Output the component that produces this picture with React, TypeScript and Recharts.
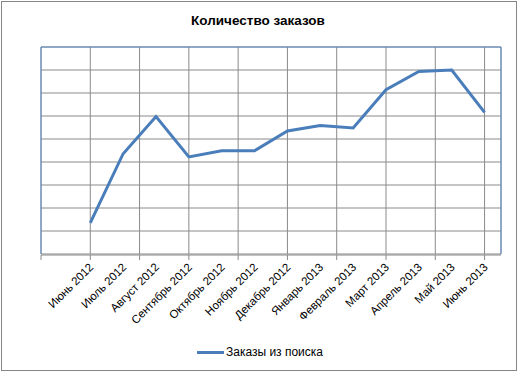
import React from 'react'
import { LineChart, Line, XAxis, YAxis, CartesianGrid } from 'recharts'

const MONTHS = [
  'Июнь 2012', 'Июль 2012', 'Август 2012', 'Сентябрь 2012', 'Октябрь 2012',
  'Ноябрь 2012', 'Декабрь 2012', 'Январь 2013', 'Февраль 2013', 'Март 2013',
  'Апрель 2013', 'Май 2013', 'Июнь 2013',
]
const ORDERS = [13.5, 43.6, 59.8, 42.2, 44.9, 44.9, 53.5, 55.9, 54.8, 71.4, 79.4, 80, 61.6]
const Y_TICKS = [0, 10, 20, 30, 40, 50, 60, 70, 80, 90]
const GRID_TICKS = [-1.5, 0, 1.5, 3, 4.5, 6, 7.5, 9, 10.5, 12]
const MONTH_TICKS = MONTHS.map((_, i) => i)
const X_DOMAIN = [-1.5, 12.5]
const TITLE = 'Количество заказов'
const SERIES_NAME = 'Заказы из поиска'

const FONT = '"Liberation Sans", Arial, sans-serif'
const LINE_COLOR = '#4a7ebb'
const BORDER_BLUE = '#5d8ac4'
const GRID_GRAY = '#8a8a8a'

const data = ORDERS.map((value, idx) => ({ idx, value }))

// rotated month label, its end sits just under the point
const MonthTick = ({ x, y, payload }: any) => (
  <g transform={`translate(${x + 1},${y + 11})`}>
    <text
      x={0}
      y={0}
      dy="0.35em"
      textAnchor="end"
      transform="rotate(-45)"
      fontSize={11.5}
      fontFamily={FONT}
      fill="#000"
    >
      {MONTHS[payload.value]}
    </text>
  </g>
)

const Blank = () => <g />

export default function App() {
  return (
    <div style={{ position: 'absolute', left: 0, top: 0, width: 518, height: 372, background: '#fff', fontFamily: FONT }}>
      <div style={{
        position: 'absolute', left: 1, top: 1, width: 516, height: 370,
        boxSizing: 'border-box', border: '1px solid #868686'
      }} />
      <div style={{
        position: 'absolute', left: -1, top: 13, width: 518, textAlign: 'center',
        fontSize: 13.5, fontWeight: 700, lineHeight: '16px', color: '#000'
      }}>
        {TITLE}
      </div>
      <div style={{ position: 'absolute', left: 0, top: 0 }}>
        <LineChart
          width={518}
          height={372}
          data={data}
          margin={{ top: 46, right: 16, left: 40, bottom: 116 }}
        >
          <CartesianGrid xAxisId="grid" yAxisId="left" stroke={GRID_GRAY} />
          <XAxis
            xAxisId="grid"
            dataKey="idx"
            type="number"
            domain={X_DOMAIN}
            ticks={GRID_TICKS}
            interval={0}
            height={1}
            tickSize={5}
            tick={<Blank />}
            axisLine={{ stroke: GRID_GRAY }}
            tickLine={{ stroke: GRID_GRAY }}
          />
          <XAxis
            xAxisId="cat"
            dataKey="idx"
            type="number"
            domain={X_DOMAIN}
            ticks={MONTH_TICKS}
            interval={0}
            height={1}
            tickSize={0}
            tickMargin={0}
            axisLine={false}
            tickLine={false}
            tick={<MonthTick />}
          />
          <XAxis
            xAxisId="top"
            orientation="top"
            dataKey="idx"
            type="number"
            domain={X_DOMAIN}
            ticks={GRID_TICKS}
            height={1}
            tick={<Blank />}
            tickLine={false}
            axisLine={{ stroke: BORDER_BLUE }}
          />
          <YAxis
            yAxisId="left"
            domain={[0, 90]}
            ticks={Y_TICKS}
            interval={0}
            width={1}
            tick={<Blank />}
            tickLine={false}
            axisLine={{ stroke: BORDER_BLUE }}
          />
          <YAxis
            yAxisId="right"
            orientation="right"
            domain={[0, 90]}
            ticks={Y_TICKS}
            width={1}
            tick={<Blank />}
            tickLine={false}
            axisLine={{ stroke: BORDER_BLUE }}
          />
          <Line
            xAxisId="cat"
            yAxisId="left"
            type="linear"
            dataKey="value"
            name={SERIES_NAME}
            stroke={LINE_COLOR}
            strokeWidth={3}
            dot={false}
            isAnimationActive={false}
          />
        </LineChart>
      </div>
      <div style={{
        position: 'absolute', left: 1, top: 344, width: 518, height: 16,
        display: 'flex', alignItems: 'center', justifyContent: 'center',
        fontSize: 12, lineHeight: '16px', color: '#000'
      }}>
        <span style={{ display: 'inline-block', width: 27, height: 3, background: LINE_COLOR, marginRight: 2 }} />
        <span>{SERIES_NAME}</span>
      </div>
    </div>
  )
}
